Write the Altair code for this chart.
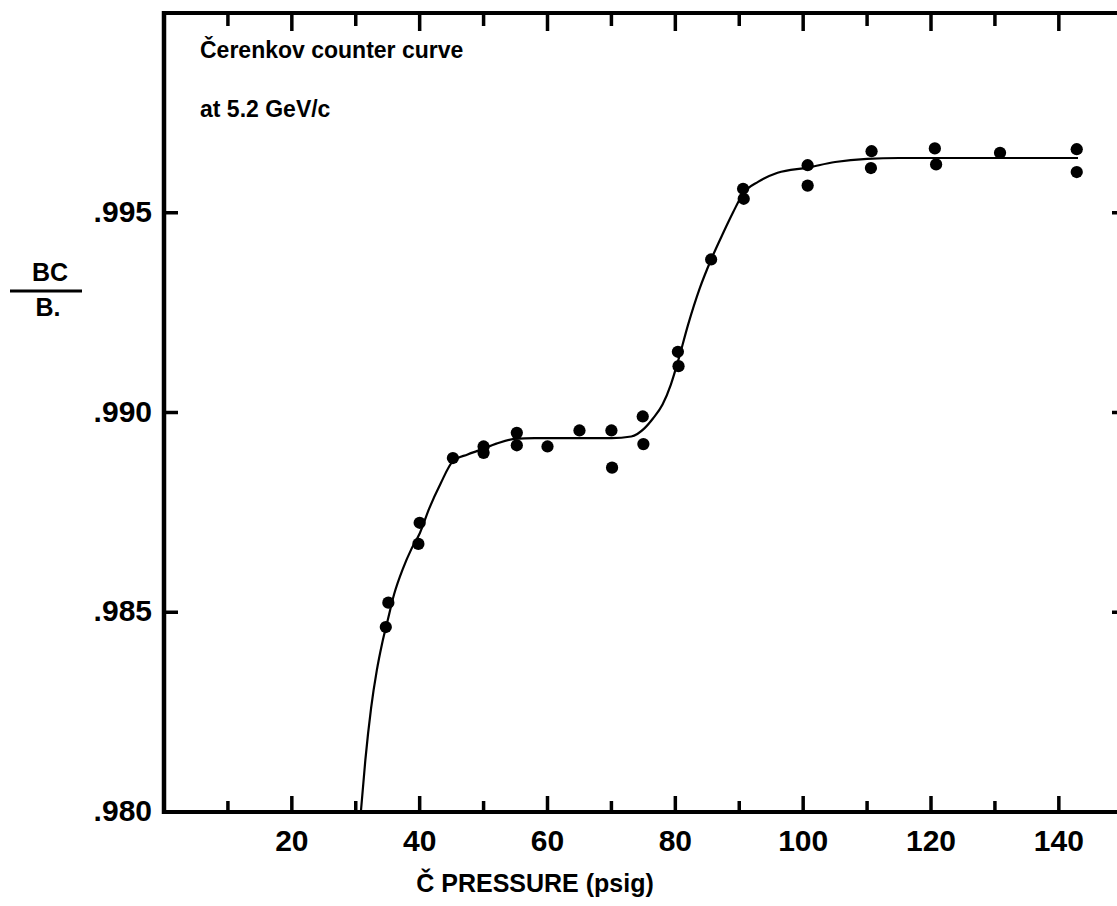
import altair as alt
import pandas as pd

# ---- data ----
pts_pressure = [34.7, 35.1, 39.8, 40.0, 45.2, 50.0, 50.0, 55.2, 55.2, 60.0, 65.0, 70.0, 70.1,
                74.9, 75.0, 80.4, 80.5, 85.6, 90.6, 90.7, 100.7, 100.7, 110.7, 110.6,
                120.6, 120.8, 130.8, 142.8, 142.8]
pts_ratio = [0.98463, 0.98524, 0.98671, 0.98724, 0.98886, 0.98899, 0.98915, 0.98918, 0.98949,
             0.98915, 0.98955, 0.98955, 0.98862, 0.98990, 0.98921, 0.99152, 0.99116, 0.99383,
             0.99560, 0.99535, 0.99619, 0.99568, 0.99654, 0.99612, 0.99661, 0.99621,
             0.99650, 0.99659, 0.99602]

curve_pressure = [30.8, 31.5, 32.4, 33.3, 34.1, 35.0, 36.0, 37.4, 38.7, 40.0, 41.5, 43.3, 45.2,
                  47.5, 49.6, 52.0, 54.8, 58.0, 62.0, 66.0, 70.0, 73.1, 75.2, 76.5, 78.0, 79.3,
                  80.5, 82.0, 83.8, 85.6, 87.5, 89.0, 90.6, 93.0, 96.0, 100.7, 105.0, 110.0,
                  115.0, 120.0, 130.0, 143.0]
curve_ratio = [0.9800, 0.9813, 0.9826, 0.98355, 0.9842, 0.9848, 0.98545, 0.9861, 0.98658,
               0.98697, 0.9876, 0.98823, 0.98878, 0.98895, 0.98907, 0.98922, 0.98934, 0.98936,
               0.98936, 0.98936, 0.98936, 0.98940, 0.98961, 0.98985, 0.99020, 0.9907,
               0.99133, 0.9922, 0.9931, 0.99383, 0.9945, 0.9950, 0.99548, 0.99578, 0.99600,
               0.99613, 0.99627, 0.99635, 0.99637, 0.99637, 0.99637, 0.99637]

x_label_values = [20, 40, 60, 80, 100, 120, 140]
x_label_texts = ["20", "40", "60", "80", "100", "120", "140"]
x_minor_values = [10, 30, 50, 70, 90, 110, 130]
y_label_values = [0.980, 0.985, 0.990, 0.995]
y_label_texts = [".980", ".985", ".990", ".995"]
y_tick_values = [0.985, 0.990, 0.995]

x_title = "Č PRESSURE (psig)"
note_line1 = "Čerenkov counter curve"
note_line2 = "at 5.2 GeV/c"
y_title_num = "BC"
y_title_den = "B."

# ---- layout ----
W, H = 953, 799
FONT = "Liberation Sans"
INK = "black"

pts_df = pd.DataFrame({"p": pts_pressure, "r": pts_ratio})
curve_df = pd.DataFrame({"p": curve_pressure, "r": curve_ratio})
xlab_df = pd.DataFrame({"p": x_label_values, "t": x_label_texts})
xmin_df = pd.DataFrame({"p": x_minor_values})
ylab_df = pd.DataFrame({"r": y_label_values, "t": y_label_texts})
ytk_df = pd.DataFrame({"r": y_tick_values})
one = pd.DataFrame({"k": [0]})

xs = alt.Scale(domain=[0, 149.1], nice=False, zero=False)
ys = alt.Scale(domain=[0.980, 1.000], nice=False, zero=False)
X = alt.X("p:Q", scale=xs, axis=None)
Y = alt.Y("r:Q", scale=ys, axis=None)

# data
curve = alt.Chart(curve_df).mark_line(color=INK, strokeWidth=2.2, interpolate="monotone").encode(
    x=X, y=Y)
points = alt.Chart(pts_df).mark_circle(size=150, color=INK, opacity=1).encode(x=X, y=Y)

# frame
left_line = alt.Chart(one).mark_rule(color=INK, strokeWidth=4.5).encode(
    x=alt.value(0), y=alt.value(-2), y2=alt.value(H + 2))
bottom_line = alt.Chart(one).mark_rule(color=INK, strokeWidth=4).encode(
    x=alt.value(-2), x2=alt.value(W), y=alt.value(H))
top_line = alt.Chart(one).mark_rule(color=INK, strokeWidth=4).encode(
    x=alt.value(-2), x2=alt.value(W), y=alt.value(0))

# inward ticks
bot_major = alt.Chart(xlab_df).mark_rule(color=INK, strokeWidth=3.5).encode(
    x=X, y=alt.value(H), y2=alt.value(H - 16))
bot_minor = alt.Chart(xmin_df).mark_rule(color=INK, strokeWidth=3.5).encode(
    x=X, y=alt.value(H), y2=alt.value(H - 11))
top_major = alt.Chart(xlab_df).mark_rule(color=INK, strokeWidth=3.5).encode(
    x=X, y=alt.value(0), y2=alt.value(18))
top_minor = alt.Chart(xmin_df).mark_rule(color=INK, strokeWidth=3.5).encode(
    x=X, y=alt.value(0), y2=alt.value(13))
left_ticks = alt.Chart(ytk_df).mark_rule(color=INK, strokeWidth=3.5).encode(
    y=Y, x=alt.value(0), x2=alt.value(14))
right_ticks = alt.Chart(ytk_df).mark_rule(color=INK, strokeWidth=3.5).encode(
    y=Y, x=alt.value(W - 5), x2=alt.value(W))

# tick labels
x_labels = alt.Chart(xlab_df).mark_text(
    font=FONT, fontSize=30, fontWeight="bold", color=INK, align="center", baseline="top"
).encode(x=X, y=alt.value(H + 15), text="t:N")
y_labels = alt.Chart(ylab_df).mark_text(
    font=FONT, fontSize=30, fontWeight="bold", color=INK, align="right", baseline="middle"
).encode(y=Y, x=alt.value(-12), text="t:N")

x_title_mark = alt.Chart(one).mark_text(
    text=x_title, font=FONT, fontSize=25, fontWeight="bold", color=INK,
    align="center", baseline="middle"
).encode(x=alt.value(371), y=alt.value(H + 72))

note1 = alt.Chart(one).mark_text(
    text=note_line1, font=FONT, fontSize=23, fontWeight="bold", color=INK,
    align="left", baseline="alphabetic"
).encode(x=alt.value(36), y=alt.value(45))
note2 = alt.Chart(one).mark_text(
    text=note_line2, font=FONT, fontSize=23, fontWeight="bold", color=INK,
    align="left", baseline="alphabetic"
).encode(x=alt.value(36), y=alt.value(104))

yt_num = alt.Chart(one).mark_text(
    text=y_title_num, font=FONT, fontSize=25, fontWeight="bold", color=INK,
    align="center", baseline="middle"
).encode(x=alt.value(-114), y=alt.value(260))
yt_bar = alt.Chart(one).mark_rule(color=INK, strokeWidth=3).encode(
    x=alt.value(-154), x2=alt.value(-82), y=alt.value(278))
yt_den = alt.Chart(one).mark_text(
    text=y_title_den, font=FONT, fontSize=25, fontWeight="bold", color=INK,
    align="center", baseline="middle"
).encode(x=alt.value(-116), y=alt.value(295))

chart = alt.layer(
    curve, points, left_line, bottom_line, top_line,
    bot_major, bot_minor, top_major, top_minor, left_ticks, right_ticks,
    x_labels, y_labels, x_title_mark, note1, note2, yt_num, yt_bar, yt_den,
).properties(
    width=W, height=H,
    padding={"left": 164, "top": 13, "right": 0, "bottom": 94},
    autosize=alt.AutoSizeParams(type="none"),
    background="white",
).configure_view(strokeWidth=0)

chart.save("out.html", embed_options={"renderer": "svg", "actions": False})
